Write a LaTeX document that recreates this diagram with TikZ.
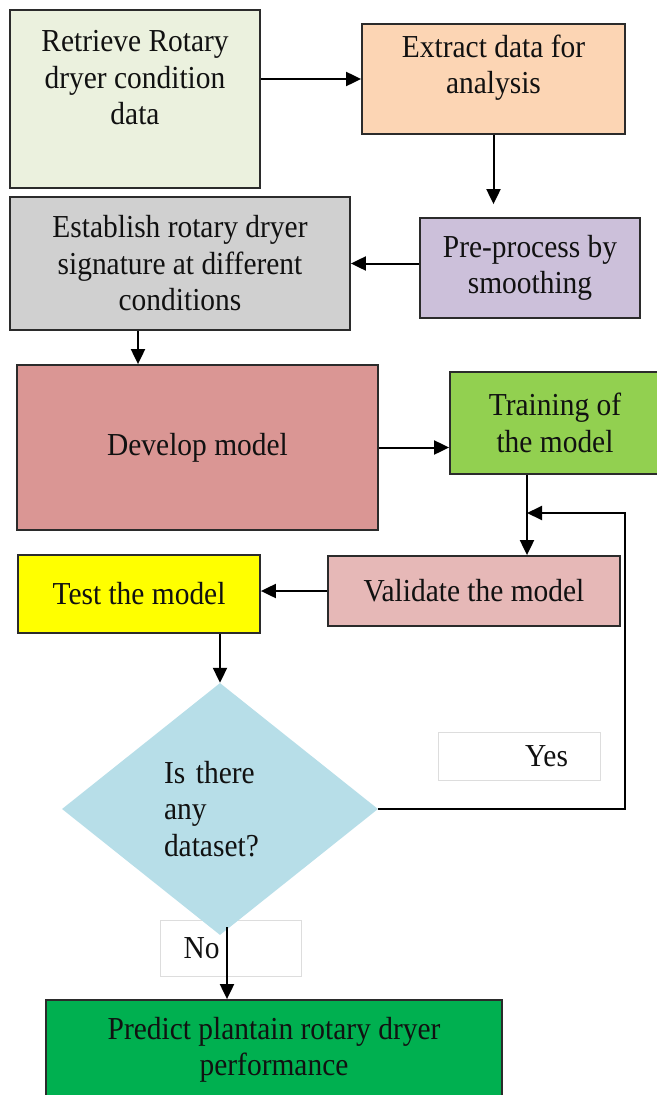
\documentclass[tikz,border=0pt]{standalone}
\usepackage{fontspec}
\setmainfont{Liberation Serif}[FakeStretch=0.92]
\usetikzlibrary{shapes.geometric,arrows.meta,calc}

\definecolor{boxline}{HTML}{2B2B2B}
\definecolor{textc}{HTML}{111111}
\definecolor{tagline}{HTML}{DDDDDD}
\definecolor{retrievec}{HTML}{EBF1DE}
\definecolor{extractc}{HTML}{FCD5B4}
\definecolor{preprocc}{HTML}{CCC0DA}
\definecolor{establishc}{HTML}{D0D0D0}
\definecolor{developc}{HTML}{DA9694}
\definecolor{trainc}{HTML}{92D050}
\definecolor{validc}{HTML}{E6B8B7}
\definecolor{testc}{HTML}{FFFF00}
\definecolor{diamc}{HTML}{B7DEE8}
\definecolor{predictc}{HTML}{00B050}

\begin{document}
\begin{tikzpicture}[x=1pt,y=-1pt,
  main text/.style={text=textc,font=\fontsize{32}{36.5}\selectfont},
  box/.style={main text,draw=boxline,line width=1.8pt,rectangle,inner sep=0pt,align=center},
  tag/.style={main text,draw=tagline,line width=0.6pt,fill=white,inner sep=0pt},
  arr/.style={line width=2pt,draw=black,-{Triangle[length=15pt,width=14pt]}}]

\useasboundingbox (0,0) rectangle (656,1095);

\node at (135,99) [box,fill=retrievec,minimum width=250,minimum height=178] (retrieve) {};
\node at (135,78) [main text,align=center] (retrieveTxt) {Retrieve Rotary\\dryer condition\\data};
\node at (493.5,79) [box,fill=extractc,minimum width=263,minimum height=110] (extract) {};
\node at (493.5,67.5) [main text,align=center] (extractTxt) {Extract data for\\analysis};
\node at (530,268) [box,fill=preprocc,minimum width=220,minimum height=100] (preproc) {Pre-process by\\smoothing};
\node at (180,263.5) [box,fill=establishc,minimum width=340,minimum height=133] (establish) {Establish rotary dryer\\signature at different\\conditions};
\node at (197.5,447.5) [box,fill=developc,minimum width=361,minimum height=165] (develop) {Develop model};
\node at (555,423) [box,fill=trainc,minimum width=210,minimum height=102] (training) {Training of\\the model};
\node at (474,591) [box,fill=validc,minimum width=292,minimum height=70] (validate) {Validate the model};
\node at (139,594) [box,fill=testc,minimum width=242,minimum height=78] (test) {Test the model};

% labels of the decision
\node at (519,756) [tag,minimum width=162,minimum height=48,text width=98,align=right] (yes) {Yes};
\node at (230.5,948) [tag,minimum width=141,minimum height=56,text width=94,align=left] (no) {No};

\node at (220,809) [diamond,main text,fill=diamc,inner sep=0pt,minimum width=316,minimum height=252,text width=112,align=left] (dataset) {Is there\\any\\dataset?};
\node at (274,1050) [box,fill=predictc,minimum width=456,minimum height=100] (predict) {Predict plantain rotary dryer\\performance};

\coordinate (ppIn) at ($(preproc.north -| extract.south)+(0,-13)$);
\coordinate (estOut) at ($(establish.south)+(-42,0)$);
\coordinate (trOut) at ($(training.south)+(-28,0)$);
\coordinate (turn) at (625,513);
\coordinate (join) at (trOut |- turn);
\coordinate (noTop) at ($(dataset.south)+(7,-8)$);

\draw[arr] (retrieve.east |- extract.west) -- (extract.west);
\draw[arr] (extract.south) -- (ppIn);
\draw[arr] (preproc.west |- establish.east) -- (establish.east);
\draw[arr] (estOut) -- (estOut |- develop.north);
\draw[arr] (develop.east) -- (develop.east -| training.west);
\draw[arr] (trOut) -- (trOut |- validate.north);
\draw[arr] (validate.west) -- (validate.west -| test.east);
\draw[arr] (dataset.north |- test.south) -- (dataset.north);
\draw[arr] (dataset.east) -| (turn) -- (join);
\draw[arr] (noTop) -- (noTop |- predict.north);

\end{tikzpicture}
\end{document}
